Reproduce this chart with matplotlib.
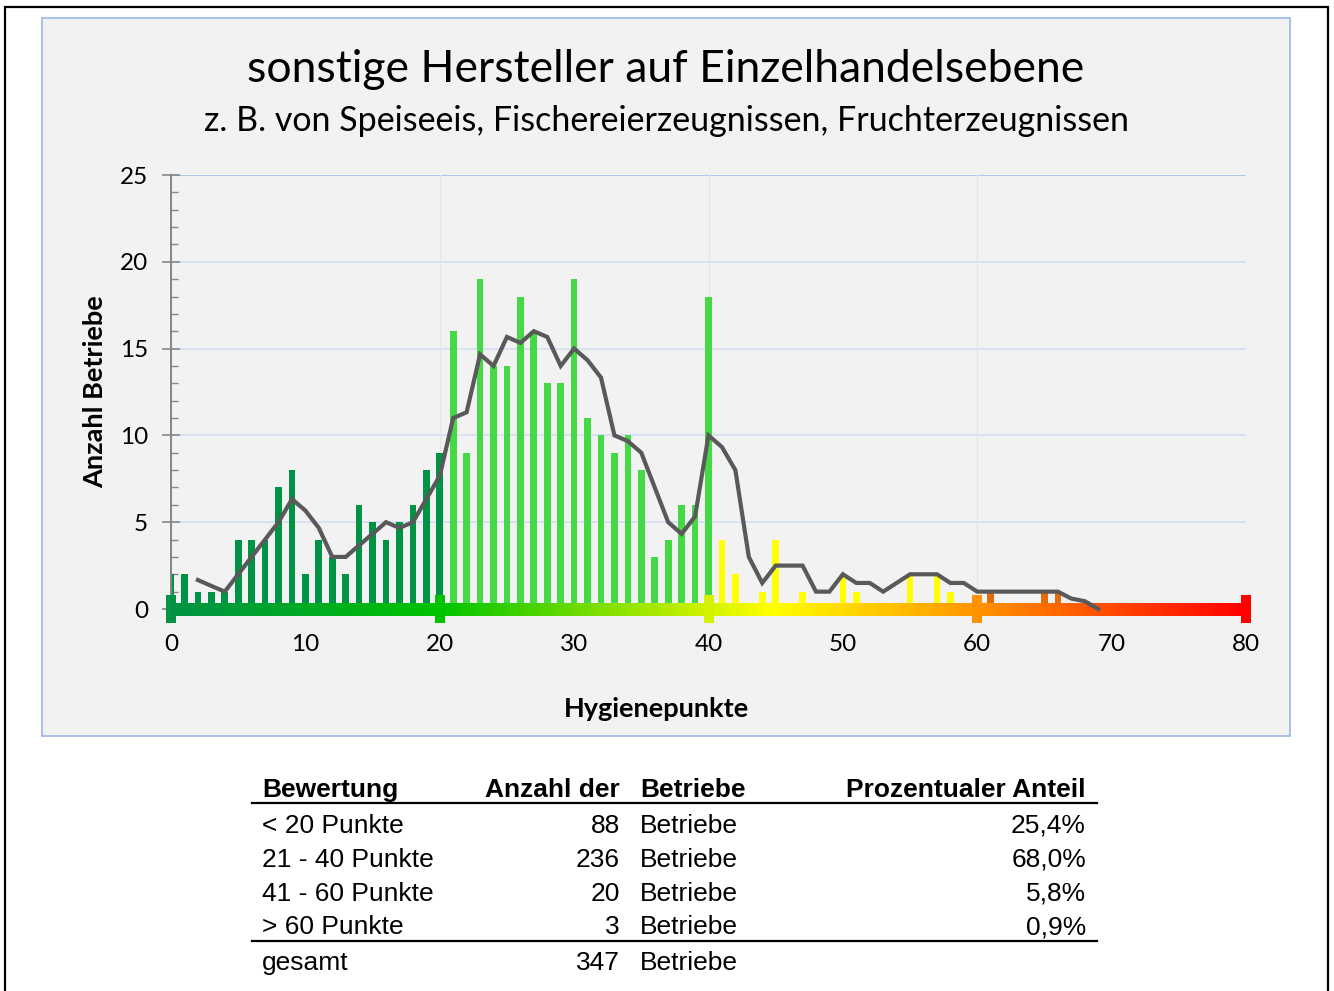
import numpy as np
import matplotlib
matplotlib.use("Agg")
import matplotlib.pyplot as plt
from matplotlib.collections import LineCollection
from matplotlib.colors import LinearSegmentedColormap
from matplotlib.lines import Line2D
from matplotlib.patches import Rectangle
from matplotlib.path import Path
from matplotlib.ticker import MultipleLocator

# --- Daten ---
punkte = list(range(70))
anzahl_betriebe = [2, 2, 1, 1, 1, 4, 4, 4, 7, 8, 2, 4, 3, 2, 6, 5, 4, 5, 6, 8, 9,
                   16, 9, 19, 14, 14, 18, 16, 13, 13, 19, 11, 10, 9, 10, 8, 3, 4, 6, 6, 18,
                   4, 2, 0, 1, 4, 0, 1, 0, 0, 2, 1, 0, 0, 0, 2, 0, 2, 1, 0, 0,
                   1, 0, 0, 0, 1, 1, 0, 0, 0]

# gleitender Durchschnitt (Trendlinie)
trend_x = list(range(2, 70))
trend_y = [1.67, 1.33, 1.0, 2.0, 3.0, 4.0, 5.0, 6.33, 5.67, 4.67, 3.0, 3.0, 3.67, 4.33,
           5.0, 4.67, 5.0, 6.33, 7.67, 11.0, 11.33, 14.67, 14.0, 15.67, 15.33, 16.0,
           15.67, 14.0, 15.0, 14.33, 13.33, 10.0, 9.67, 9.0, 7.0, 5.0, 4.33, 5.33,
           10.0, 9.33, 8.0, 3.0, 1.5, 2.5, 2.5, 2.5, 1.0, 1.0, 2.0, 1.5, 1.5, 1.0,
           1.5, 2.0, 2.0, 2.0, 1.5, 1.5, 1.0, 1.0, 1.0, 1.0, 1.0, 1.0, 1.0, 0.6, 0.45, 0.0]

gruppen_grenzen = [20, 40, 60]
gruppen_farben = ["#009245", "#45D945", "#FFFF00", "#E46C0A"]

achsen_marken = [0, 20, 40, 60, 80]

titel = "sonstige Hersteller auf Einzelhandelsebene"
untertitel = "z. B. von Speiseeis, Fischereierzeugnissen, Fruchterzeugnissen"

tab_bewertung = ["< 20 Punkte", "21 - 40 Punkte", "41 - 60 Punkte", "> 60 Punkte"]
tab_anzahl = [88, 236, 20, 3]
tab_anteil = ["25,4%", "68,0%", "5,8%", "0,9%"]
tab_gesamt = 347

# --- Schriften ---
chart_font = ["Lato", "DejaVu Sans"]
table_font = ["Liberation Sans", "DejaVu Sans"]

W, H = 1334, 991
fig = plt.figure(figsize=(W / 100, H / 100), dpi=100)
fig.patch.set_facecolor("white")


def fx(px):
    return px / W


def fy(py):
    return 1 - py / H


# Rahmen aussen und Diagrammfläche
fig.patches.append(Rectangle((fx(5), fy(1005)), fx(1323), 1005 / H - 7 / H,
                             transform=fig.transFigure, facecolor="none",
                             edgecolor="black", lw=1.6, zorder=-2))
fig.patches.append(Rectangle((fx(42), fy(736)), fx(1248), 718 / H,
                             transform=fig.transFigure, facecolor="#F2F2F2",
                             edgecolor="#A9C1E8", lw=1.4, zorder=-1))

ax = fig.add_axes([fx(171), fy(609), fx(1246 - 171), (609 - 175) / H])
ax.set_facecolor("#F2F2F2")
ax.set_xlim(0, 80)
ax.set_ylim(0, 25)

for s in ["top", "right", "bottom"]:
    ax.spines[s].set_visible(False)
ax.spines["left"].set_color("#868686")
ax.spines["left"].set_linewidth(1.4)

# Gitter
for yv in [5, 10, 15, 20]:
    ax.axhline(yv, color="#D3DEF1", lw=1.2, zorder=0)
ax.axhline(25, color="#AFC4EA", lw=1.4, zorder=0)
for xv in [20, 40, 60, 80]:
    ax.axvline(xv, color="#E3E6EE", lw=1.0, zorder=0)

# Balken
farben = []
for p in punkte:
    g = sum(p > b for b in gruppen_grenzen)
    farben.append(gruppen_farben[g])
ax.bar(punkte, anzahl_betriebe, width=0.5, color=farben, zorder=2)

# Farbverlauf-Achse
cmap = LinearSegmentedColormap.from_list("ampel", [
    (0.0, "#009245"), (0.25, "#00C300"), (0.5, "#D2F200"),
    (0.56, "#FFFF00"), (0.75, "#FF9400"), (1.0, "#FF0000")])
xs = np.linspace(0, 80, 321)
segs = [[(xs[i], 0), (xs[i + 1] + 0.05, 0)] for i in range(len(xs) - 1)]
lc = LineCollection(segs, colors=cmap((xs[:-1] + xs[1:]) / 160), linewidths=8,
                    capstyle="butt", antialiaseds=False, zorder=4, clip_on=False)
ax.add_collection(lc)

bar_marker = Path([(-5, -13.5), (5, -13.5), (5, 13.5), (-5, 13.5), (-5, -13.5)],
                  [Path.MOVETO, Path.LINETO, Path.LINETO, Path.LINETO, Path.CLOSEPOLY])
for m in achsen_marken:
    ax.plot([m], [0], marker=bar_marker, markersize=19.5, color=cmap(m / 80),
            markeredgewidth=0, zorder=5, clip_on=False)

# Trendlinie
ax.plot(trend_x, trend_y, color="#595959", lw=3.0, zorder=6, clip_on=False,
        solid_joinstyle="miter")

# Achsen
ax.yaxis.set_major_locator(MultipleLocator(5))
ax.yaxis.set_minor_locator(MultipleLocator(1))
ax.xaxis.set_major_locator(MultipleLocator(10))
ax.tick_params(axis="y", which="major", direction="inout", length=13, width=1.2,
               color="#868686", pad=10, labelsize=17.5)
ax.tick_params(axis="y", which="minor", direction="in", length=5, width=1.0,
               color="#868686")
ax.tick_params(axis="x", which="both", length=0, pad=18, labelsize=17.5)
for lab in ax.get_xticklabels() + ax.get_yticklabels():
    lab.set_family(chart_font)

fig.text(fx(95), fy(392), "Anzahl Betriebe", rotation=90, ha="center", va="center",
         fontsize=19.5, fontweight="bold", family=chart_font)
fig.text(fx(656), fy(709), "Hygienepunkte", ha="center", va="center",
         fontsize=19.5, fontweight="bold", family=chart_font)

fig.text(fx(666), fy(69), titel, ha="center", va="center", fontsize=32, family=chart_font)
fig.text(fx(666), fy(121), untertitel, ha="center", va="center", fontsize=24.5,
         family=chart_font)

# Tabelle
tab_fs = 19
kopf_y = 790
fig.text(fx(262), fy(kopf_y), "Bewertung", ha="left", va="center", fontsize=tab_fs,
         fontweight="bold", family=table_font)
fig.text(fx(620), fy(kopf_y), "Anzahl der", ha="right", va="center", fontsize=tab_fs,
         fontweight="bold", family=table_font)
fig.text(fx(640), fy(kopf_y), "Betriebe", ha="left", va="center", fontsize=tab_fs,
         fontweight="bold", family=table_font)
fig.text(fx(1086), fy(kopf_y), "Prozentualer Anteil", ha="right", va="center",
         fontsize=tab_fs, fontweight="bold", family=table_font)

zeilen_y = [826, 860, 894, 927]
for yy, bew, anz, ant in zip(zeilen_y, tab_bewertung, tab_anzahl, tab_anteil):
    fig.text(fx(262), fy(yy), bew, ha="left", va="center", fontsize=tab_fs, family=table_font)
    fig.text(fx(620), fy(yy), str(anz), ha="right", va="center", fontsize=tab_fs,
             family=table_font)
    fig.text(fx(640), fy(yy), "Betriebe", ha="left", va="center", fontsize=tab_fs,
             family=table_font)
    fig.text(fx(1086), fy(yy), ant, ha="right", va="center", fontsize=tab_fs,
             family=table_font)

fig.text(fx(262), fy(963), "gesamt", ha="left", va="center", fontsize=tab_fs, family=table_font)
fig.text(fx(620), fy(963), str(tab_gesamt), ha="right", va="center", fontsize=tab_fs,
         family=table_font)
fig.text(fx(640), fy(963), "Betriebe", ha="left", va="center", fontsize=tab_fs,
         family=table_font)

for ly in [803, 941]:
    fig.lines.append(Line2D([fx(252), fx(1097)], [fy(ly), fy(ly)], transform=fig.transFigure,
                            color="black", lw=1.6))

fig.savefig("out.png", dpi=100)
